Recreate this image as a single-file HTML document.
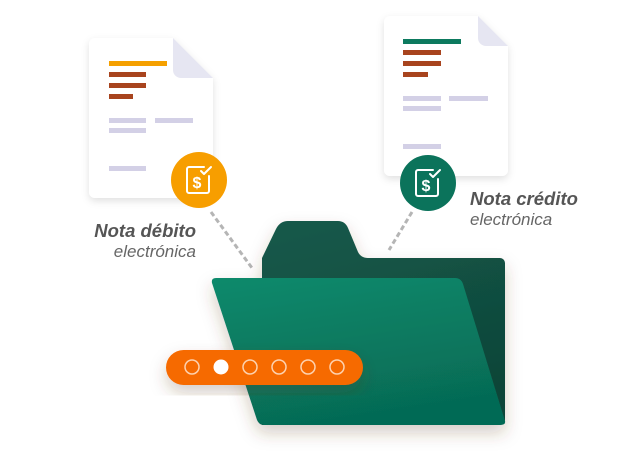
<!DOCTYPE html>
<html><head><meta charset="utf-8"><style>
html,body{margin:0;padding:0;background:#fff;}
body{width:640px;height:460px;overflow:hidden;position:relative;font-family:"Liberation Sans",sans-serif;}
</style></head><body>
<svg width="640" height="460" viewBox="0 0 640 460" xmlns="http://www.w3.org/2000/svg" style="position:absolute;left:0;top:0">
<defs>
<filter id="sh" x="-30%" y="-30%" width="160%" height="160%"><feDropShadow dx="0" dy="3" stdDeviation="4" flood-color="#000" flood-opacity="0.12"/></filter>
<filter id="sh2" x="-30%" y="-30%" width="160%" height="160%"><feDropShadow dx="0" dy="8" stdDeviation="8" flood-color="#5a3a20" flood-opacity="0.25"/></filter>
<linearGradient id="front" x1="0" y1="0" x2="0.3" y2="1"><stop offset="0" stop-color="#0a8a6c"/><stop offset="1" stop-color="#066b55"/></linearGradient>
<linearGradient id="back" x1="0" y1="0" x2="0.3" y2="1"><stop offset="0" stop-color="#145a4b"/><stop offset="1" stop-color="#0f4538"/></linearGradient>
</defs>
<g filter="url(#sh)"><path d="M95 38 H173 L213 78 V192 a6 6 0 0 1 -6 6 H95 a6 6 0 0 1 -6 -6 V44 a6 6 0 0 1 6 -6Z" fill="#fff"/></g>
<path d="M173 38 L213 78 H181 a8 8 0 0 1 -8 -8Z" fill="#e6e6f2"/>
<rect x="109" y="61" width="58" height="5" fill="#f5a000"/>
<rect x="109" y="72" width="37" height="5" fill="#a8441e"/>
<rect x="109" y="83" width="37" height="5" fill="#a8441e"/>
<rect x="109" y="94" width="24" height="5" fill="#a8441e"/>
<rect x="109" y="118" width="37" height="5" fill="#d3d0e6"/>
<rect x="155" y="118" width="38" height="5" fill="#d3d0e6"/>
<rect x="109" y="128" width="37" height="5" fill="#d3d0e6"/>
<rect x="109" y="166" width="37" height="5" fill="#d3d0e6"/>
<g filter="url(#sh)"><path d="M390 16 H478 L508 46 V170 a6 6 0 0 1 -6 6 H390 a6 6 0 0 1 -6 -6 V22 a6 6 0 0 1 6 -6Z" fill="#fff"/></g>
<path d="M478 16 L508 46 H486 a8 8 0 0 1 -8 -8Z" fill="#e6e6f2"/>
<rect x="403" y="39" width="58" height="5" fill="#0d7a5f"/>
<rect x="403" y="50" width="38" height="5" fill="#a8441e"/>
<rect x="403" y="61" width="38" height="5" fill="#a8441e"/>
<rect x="403" y="72" width="25" height="5" fill="#a8441e"/>
<rect x="403" y="96" width="38" height="5" fill="#d3d0e6"/>
<rect x="449" y="96" width="39" height="5" fill="#d3d0e6"/>
<rect x="403" y="106" width="38" height="5" fill="#d3d0e6"/>
<rect x="403" y="144" width="38" height="5" fill="#d3d0e6"/>
<line x1="211" y1="212" x2="252" y2="268" stroke="#b5b5b5" stroke-width="3" stroke-dasharray="5 3"/>
<line x1="412" y1="212" x2="389" y2="250" stroke="#b5b5b5" stroke-width="3" stroke-dasharray="5 3"/>
<circle cx="199" cy="180" r="28" fill="#f79e00"/>
<g fill="none" stroke="#fff" stroke-width="2" stroke-linecap="round" stroke-linejoin="round">
<path d="M204 167 H189 a2 2 0 0 0 -2 2 V191 a2 2 0 0 0 2 2 H207 a2 2 0 0 0 2 -2 V176"/>
<path d="M201 171 l3 3 l7 -7"/>
</g>
<text x="197" y="188" font-family="Liberation Sans" font-weight="bold" font-size="16" fill="#fff" text-anchor="middle">$</text>
<circle cx="428" cy="183" r="28" fill="#0b735b"/>
<g fill="none" stroke="#fff" stroke-width="2" stroke-linecap="round" stroke-linejoin="round">
<path d="M433 170 H418 a2 2 0 0 0 -2 2 V194 a2 2 0 0 0 2 2 H436 a2 2 0 0 0 2 -2 V179"/>
<path d="M430 174 l3 3 l7 -7"/>
</g>
<text x="426" y="191" font-family="Liberation Sans" font-weight="bold" font-size="16" fill="#fff" text-anchor="middle">$</text>
<text x="196" y="237" font-family="Liberation Sans" font-weight="bold" font-style="italic" font-size="18.5" fill="#555" text-anchor="end">Nota débito</text>
<text x="196" y="257" font-family="Liberation Sans" font-style="italic" font-size="17" fill="#666" text-anchor="end">electrónica</text>
<text x="470" y="205" font-family="Liberation Sans" font-weight="bold" font-style="italic" font-size="18.5" fill="#555">Nota crédito</text>
<text x="470" y="225" font-family="Liberation Sans" font-style="italic" font-size="17" fill="#666">electrónica</text>
<g filter="url(#sh2)">
<path d="M262 262 V258 L276 229 Q280 221 288 221 H338 Q345 221 348 228 L358 252 Q361 258 368 258 H500 a5 5 0 0 1 5 5 V420 a5 5 0 0 1 -5 5 H262 Z" fill="url(#back)"/>
<path d="M216 278 H455 Q461 278 463 284 L505 421 Q506 425 500 425 H264 Q259 425 257 420 L212 283 Q211 278 216 278Z" fill="url(#front)"/>
</g>
<g filter="url(#sh2)"><rect x="166" y="350" width="197" height="35" rx="17.5" fill="#f66b00"/></g>
<g fill="none" stroke="#fdd2b0" stroke-width="1.5">
<circle cx="192" cy="367" r="7"/><circle cx="250" cy="367" r="7"/><circle cx="279" cy="367" r="7"/><circle cx="308" cy="367" r="7"/><circle cx="337" cy="367" r="7"/>
</g>
<circle cx="221" cy="367" r="7.5" fill="#fff"/>
</svg>
</body></html>
